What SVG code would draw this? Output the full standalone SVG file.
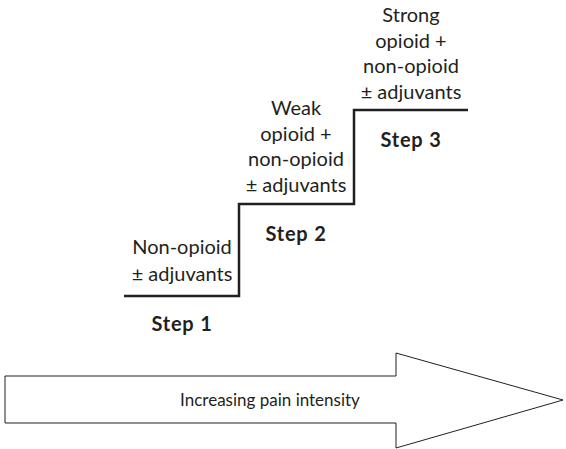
<svg xmlns="http://www.w3.org/2000/svg" width="566" height="449" viewBox="0 0 566 449">
<style>
text{font-family:Lato,"Open Sans","Liberation Sans",sans-serif;fill:#231f20;text-anchor:middle}
.t{font-size:20px}
.s{font-size:20px;font-weight:bold;letter-spacing:0.8px}
.stair{fill:none;stroke:#231f20;stroke-width:2.5}
.arrow{fill:#fff;stroke:#231f20;stroke-width:1}
</style>
<rect width="566" height="449" fill="#fff"/>
<g id="connectors">
<path class="stair" d="M124 296 H239 V204 H354 V110 H468"/>
</g>
<g id="step1">
<text class="t" x="182" y="254">Non-opioid</text>
<text class="t" x="182" y="281">± adjuvants</text>
<text class="s" x="182" y="331">Step 1</text>
</g>
<g id="step2">
<text class="t" x="296" y="115">Weak</text>
<text class="t" x="296" y="141">opioid +</text>
<text class="t" x="296" y="166">non-opioid</text>
<text class="t" x="296" y="192">± adjuvants</text>
<text class="s" x="296" y="241">Step 2</text>
</g>
<g id="step3">
<text class="t" x="411" y="22">Strong</text>
<text class="t" x="411" y="48">opioid +</text>
<text class="t" x="411" y="73">non-opioid</text>
<text class="t" x="411" y="99">± adjuvants</text>
<text class="s" x="411" y="147">Step 3</text>
</g>
<g id="pain-arrow">
<path class="arrow" d="M5 376 H396 V353 L563 400 L396 448 V423 H5 Z"/>
<text class="t" x="270" y="406" style="font-size:17px">Increasing pain intensity</text>
</g>
</svg>
